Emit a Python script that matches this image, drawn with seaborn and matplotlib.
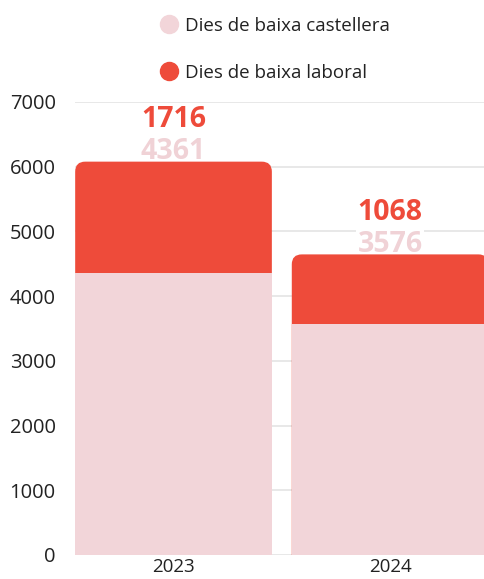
import matplotlib
matplotlib.use("Agg")
import matplotlib.pyplot as plt
import seaborn as sns
import pandas as pd
from matplotlib.lines import Line2D
from matplotlib.patches import FancyBboxPatch
from matplotlib.colors import to_rgba

# data
years = ["2023", "2024"]
castellera = [4361, 3576]
laboral = [1716, 1068]

pink = "#f2d5d9"
red = "#ee4b3a"

df = pd.DataFrame({
    "year": years,
    "castellera": castellera,
    "laboral": laboral,
})
df["total"] = df["castellera"] + df["laboral"]

sns.set_theme(style="white")
plt.rcParams["font.family"] = ["Open Sans", "DejaVu Sans"]

fig = plt.figure(figsize=(4.85, 5.79), dpi=100)
ax = fig.add_axes([0.155, 0.0415, 0.845, 0.7825])

# stacked look: total in red, castellera on top of it in pink
sns.barplot(data=df, x="year", y="total", color=red, width=0.908,
            saturation=1, linewidth=0, ax=ax, zorder=2)
sns.barplot(data=df, x="year", y="castellera", color=pink, width=0.908,
            saturation=1, linewidth=0, ax=ax, zorder=3)

ax.set_xlim(-0.454, 1.438)
ax.set_ylim(0, 7000)

# round off the top corners of the red (total) bars;
# the bottom of the rounded box sits below 0 so it gets clipped
x_px = ax.bbox.width / (1.438 + 0.454)
y_px = ax.bbox.height / 7000
radius = 10 / x_px
for p in list(ax.patches):
    if p.get_facecolor() != to_rgba(red):
        continue
    top = p.get_y() + p.get_height()
    rb = FancyBboxPatch((p.get_x(), -1000), p.get_width(), top + 1000,
                        boxstyle=f"round,pad=0,rounding_size={radius}",
                        mutation_aspect=x_px / y_px, fc=red, ec="none",
                        zorder=2)
    p.remove()
    ax.add_patch(rb)

ax.set_yticks(range(0, 7001, 1000))
ax.yaxis.grid(True, color="#e4e4e4", linewidth=1.2, zorder=0)
ax.set_axisbelow(True)
for s in ax.spines.values():
    s.set_visible(False)
ax.set_xlabel("")
ax.set_ylabel("")
ax.tick_params(axis="y", length=0, pad=14, labelsize=14.5, labelcolor="#222222")
ax.tick_params(axis="x", length=0, pad=2, labelsize=13.5, labelcolor="#222222")

# value labels above each bar
for i, row in df.iterrows():
    ax.annotate(f"{row['castellera']}", (i, row["total"]), xytext=(0, 7),
                textcoords="offset points", ha="center", va="center",
                fontsize=20.5, fontweight="bold", color="#f0d2d6", zorder=1.5,
                bbox=dict(boxstyle="square,pad=0.05", fc="white", ec="none"))
    ax.annotate(f"{row['laboral']}", (i, row["total"]), xytext=(0, 30),
                textcoords="offset points", ha="center", va="center",
                fontsize=20.5, fontweight="bold", color=red, zorder=1.5)

handles = [
    Line2D([], [], marker="o", ls="", markersize=13, color=pink),
    Line2D([], [], marker="o", ls="", markersize=13, color=red),
]
fig.legend(handles, ["Dies de baixa castellera", "Dies de baixa laboral"],
           loc="upper left", bbox_to_anchor=(0.295, 1.0), frameon=False,
           fontsize=13.5, labelspacing=1.55, handletextpad=0.35,
           handlelength=1.0, labelcolor="#222222")

fig.savefig("out.png", dpi=100)
